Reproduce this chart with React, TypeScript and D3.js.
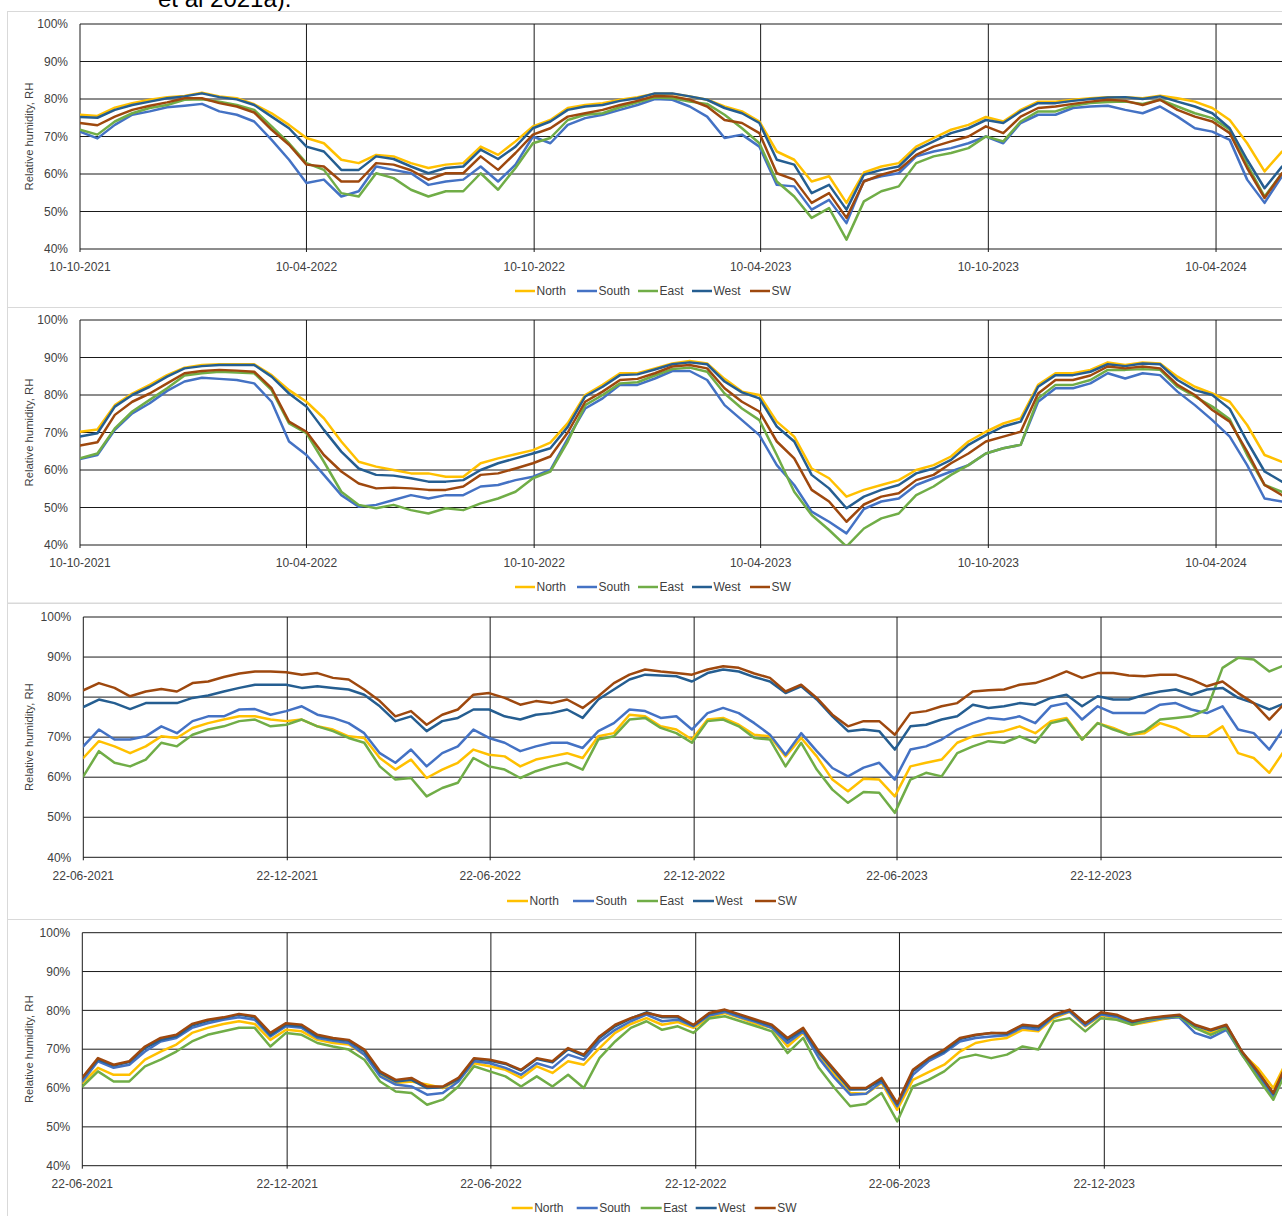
import React from 'react';
import * as d3 from 'd3';

// Series order matches the legend; SW is drawn last so it sits on top.
const SERIES_NAMES = ['North', 'South', 'East', 'West', 'SW'];
const SERIES_COLORS = ['#FFC000', '#4472C4', '#70AD47', '#255E91', '#9E480E'];
const Y_TICKS = [0.4, 0.5, 0.6, 0.7, 0.8, 0.9, 1.0];
const STEP_DAYS = 14; // readings are fortnightly

const TICKS_OCT = ['2021-10-10', '2022-04-10', '2022-10-10', '2023-04-10', '2023-10-10', '2024-04-10'];
const TICKS_JUN = ['2021-06-22', '2021-12-22', '2022-06-22', '2022-12-22', '2023-06-22', '2023-12-22'];

// ---- Panel 1: from 10-10-2021 ----
const P1_NORTH = [
  75.8, 75.5, 77.7, 78.9, 79.8, 80.5, 80.8, 81.7, 80.7, 80.2,
  78.6, 76.2, 73.1, 69.6, 68.2, 63.8, 62.9, 65.1, 64.7, 62.9,
  61.6, 62.5, 62.9, 67.3, 65.1, 68.7, 72.7, 74.4, 77.6, 78.4,
  78.9, 79.8, 80.5, 81.4, 81.4, 80.7, 79.8, 78.0, 76.7, 74.0,
  66.0, 63.8, 58.0, 59.4, 52.3, 60.4, 62.0, 62.9, 67.3, 69.6,
  71.8, 73.1, 75.2, 74.0, 77.1, 79.3, 79.3, 79.8, 80.2, 80.5,
  80.5, 80.2, 80.9, 80.2, 79.3, 77.6, 74.4, 68.2, 60.7, 66.0,
];
const P1_SOUTH = [
  71.3, 69.5, 73.1, 75.8, 76.7, 77.8, 78.2, 78.7, 76.7, 75.8,
  74.0, 69.1, 63.8, 57.6, 58.5, 54.0, 55.4, 62.0, 61.1, 60.2,
  57.1, 58.0, 58.5, 62.0, 58.0, 62.5, 70.0, 68.2, 73.1, 74.9,
  75.8, 77.1, 78.4, 80.0, 79.8, 78.0, 75.3, 69.6, 70.5, 67.3,
  57.1, 56.7, 50.5, 53.1, 46.9, 58.2, 59.4, 60.2, 64.7, 66.0,
  66.9, 68.2, 70.0, 68.2, 73.6, 75.8, 75.8, 77.6, 78.0, 78.2,
  77.1, 76.2, 78.0, 75.3, 72.2, 71.3, 69.1, 58.5, 52.3, 59.4,
];
const P1_EAST = [
  71.8, 70.5, 74.0, 76.2, 77.6, 78.4, 79.8, 79.9, 79.3, 78.4,
  77.1, 72.7, 68.2, 62.9, 61.1, 54.9, 54.0, 60.2, 58.9, 55.8,
  54.0, 55.4, 55.4, 60.2, 55.8, 61.6, 68.2, 69.6, 74.4, 75.8,
  76.2, 77.8, 79.1, 80.4, 80.2, 79.3, 78.7, 75.8, 72.2, 68.2,
  58.0, 54.0, 48.3, 50.9, 42.5, 52.7, 55.4, 56.7, 62.9, 64.7,
  65.6, 66.9, 70.0, 68.7, 74.0, 76.7, 76.7, 78.2, 78.9, 79.2,
  79.3, 78.7, 79.8, 78.0, 76.2, 74.9, 71.8, 62.5, 54.0, 60.2,
];
const P1_WEST = [
  75.2, 75.0, 77.1, 78.4, 79.3, 80.2, 80.7, 81.5, 80.5, 79.9,
  78.4, 75.3, 72.2, 67.3, 66.0, 61.1, 61.1, 64.7, 64.0, 62.0,
  60.2, 61.6, 62.0, 66.5, 64.0, 67.3, 72.2, 74.0, 77.1, 78.0,
  78.4, 79.5, 80.2, 81.5, 81.5, 80.7, 79.8, 77.6, 76.2, 73.6,
  63.8, 62.5, 54.9, 57.1, 50.5, 59.8, 61.1, 62.0, 66.5, 68.7,
  70.9, 72.2, 74.4, 73.6, 76.7, 78.9, 78.9, 79.5, 80.0, 80.4,
  80.5, 80.0, 80.7, 79.3, 78.0, 76.2, 72.2, 63.8, 56.2, 62.0,
];
const P1_SW = [
  73.6, 73.0, 75.3, 77.1, 78.2, 79.1, 80.2, 80.2, 78.9, 78.0,
  76.4, 71.8, 67.8, 62.5, 62.0, 58.0, 58.0, 62.9, 62.5, 61.0,
  58.5, 60.2, 60.2, 64.7, 61.1, 65.6, 70.5, 72.2, 75.3, 76.2,
  77.1, 78.4, 79.5, 80.8, 80.7, 79.8, 78.0, 74.4, 73.6, 70.9,
  60.2, 58.5, 52.3, 54.9, 48.3, 58.0, 59.8, 61.1, 65.1, 67.3,
  68.7, 70.0, 72.7, 70.9, 75.3, 77.6, 78.0, 78.7, 79.3, 79.8,
  79.5, 78.4, 79.8, 77.1, 75.3, 74.0, 70.9, 61.6, 53.6, 60.2,
];

// ---- Panel 2: from 10-10-2021 ----
const P2_NORTH = [
  70.2, 70.8, 77.3, 80.4, 82.7, 85.3, 87.3, 88.0, 88.2, 88.2,
  88.2, 85.3, 81.3, 78.2, 73.8, 67.6, 62.2, 60.9, 60.0, 59.1,
  59.1, 58.2, 58.2, 61.8, 63.1, 64.2, 65.3, 67.3, 72.5, 80.0,
  82.7, 85.8, 85.8, 87.1, 88.4, 89.1, 88.4, 84.3, 80.9, 80.0,
  72.9, 68.9, 60.4, 57.8, 52.9, 54.7, 56.0, 57.3, 60.0, 61.3,
  63.6, 67.6, 70.2, 72.4, 73.8, 82.7, 85.8, 85.8, 86.7, 88.7,
  88.0, 88.7, 88.4, 84.9, 82.2, 80.4, 78.2, 72.0, 64.0, 62.2,
];
const P2_SOUTH = [
  62.9, 64.0, 70.7, 75.1, 77.8, 81.1, 83.6, 84.6, 84.3, 84.0,
  83.1, 78.2, 67.6, 64.0, 58.7, 53.3, 50.2, 50.7, 52.0, 53.3,
  52.4, 53.3, 53.3, 55.6, 56.0, 57.3, 58.2, 60.0, 68.4, 76.4,
  79.1, 82.7, 82.7, 84.4, 86.4, 86.4, 84.0, 77.3, 73.3, 69.3,
  61.3, 56.0, 48.9, 46.2, 43.1, 49.6, 51.6, 52.4, 56.0, 57.8,
  59.6, 61.3, 64.4, 65.8, 66.7, 78.2, 81.8, 81.8, 83.1, 85.8,
  84.4, 85.8, 85.3, 80.9, 77.3, 73.3, 68.9, 61.3, 52.4, 51.6,
];
const P2_EAST = [
  63.1, 64.4, 71.1, 75.6, 78.7, 81.8, 85.2, 85.8, 86.2, 86.0,
  85.8, 81.3, 72.4, 69.8, 62.2, 54.2, 50.7, 49.8, 50.7, 49.3,
  48.4, 49.8, 49.3, 51.1, 52.4, 54.2, 57.8, 59.6, 67.6, 77.3,
  80.0, 83.1, 83.4, 85.2, 86.9, 87.3, 86.2, 80.4, 76.4, 73.3,
  64.0, 54.2, 48.0, 44.0, 39.6, 44.4, 47.1, 48.4, 53.3, 55.6,
  58.7, 61.3, 64.4, 65.8, 66.7, 79.1, 82.7, 82.7, 84.0, 86.7,
  86.7, 86.9, 86.7, 82.2, 79.6, 76.9, 73.5, 64.0, 56.0, 54.2,
];
const P2_WEST = [
  68.9, 69.8, 76.9, 80.0, 82.2, 84.9, 87.1, 87.7, 88.0, 88.0,
  88.0, 84.9, 80.4, 76.9, 70.7, 64.9, 60.4, 58.7, 58.5, 57.8,
  56.9, 56.9, 57.3, 60.0, 61.8, 63.1, 64.4, 65.8, 71.5, 79.6,
  82.2, 85.3, 85.5, 86.8, 88.2, 88.7, 88.2, 83.6, 80.7, 79.1,
  71.6, 67.6, 58.7, 55.1, 49.8, 52.9, 54.7, 56.0, 59.1, 60.4,
  62.7, 66.7, 69.3, 71.6, 72.9, 82.2, 85.3, 85.3, 86.2, 88.2,
  87.7, 88.4, 88.2, 84.0, 81.3, 80.0, 76.3, 67.6, 59.6, 56.9,
];
const P2_SW = [
  66.5, 67.4, 74.7, 78.2, 80.4, 83.1, 85.8, 86.4, 86.7, 86.5,
  86.2, 81.8, 72.9, 70.2, 64.0, 59.6, 56.4, 55.1, 55.3, 55.1,
  54.7, 54.7, 55.6, 58.7, 59.1, 60.4, 61.8, 63.6, 70.0, 78.2,
  80.9, 84.0, 84.3, 85.8, 87.6, 88.0, 87.1, 81.8, 78.2, 75.6,
  67.6, 63.1, 54.7, 51.6, 46.2, 50.8, 52.9, 53.8, 57.3, 58.7,
  61.8, 64.4, 67.6, 68.9, 70.2, 80.4, 84.0, 84.0, 85.2, 87.6,
  87.1, 87.6, 87.1, 82.7, 80.0, 76.0, 72.9, 64.9, 56.0, 53.3,
];

// ---- Panel 3: from 22-06-2021 ----
const P3_NORTH = [
  64.8, 69.0, 67.7, 66.0, 67.7, 70.2, 69.8, 72.3, 73.5, 74.4,
  75.2, 75.2, 74.4, 74.0, 74.4, 72.7, 71.9, 70.2, 69.8, 64.8,
  61.9, 64.4, 59.8, 61.9, 63.6, 66.9, 65.6, 65.2, 62.7, 64.4,
  65.2, 66.0, 64.8, 70.2, 71.0, 75.6, 75.2, 72.7, 71.9, 69.4,
  74.4, 74.8, 73.1, 70.6, 70.2, 65.2, 69.8, 65.2, 59.4, 56.5,
  59.6, 59.4, 55.2, 62.7, 63.6, 64.4, 68.6, 70.2, 71.0, 71.5,
  72.7, 71.0, 74.0, 74.8, 69.4, 73.5, 72.3, 70.6, 71.0, 73.5,
  72.3, 70.2, 70.2, 72.7, 66.0, 64.8, 61.1, 66.9,
];
const P3_SOUTH = [
  67.7, 71.9, 69.4, 69.4, 70.2, 72.7, 71.0, 74.0, 75.2, 75.2,
  76.9, 77.0, 75.6, 76.5, 77.7, 75.6, 74.8, 73.5, 71.0, 66.0,
  63.6, 66.9, 62.7, 66.0, 67.7, 71.9, 69.8, 68.6, 66.5, 67.7,
  68.6, 68.6, 67.3, 71.5, 73.5, 76.9, 76.5, 74.8, 75.2, 71.9,
  76.0, 77.3, 76.0, 73.5, 70.6, 65.6, 71.0, 66.5, 62.3, 60.2,
  62.4, 63.6, 59.4, 66.9, 67.7, 69.4, 71.9, 73.5, 74.8, 74.4,
  75.2, 73.5, 77.7, 78.5, 74.4, 77.7, 76.0, 76.0, 76.0, 78.1,
  78.5, 76.9, 76.0, 77.7, 71.9, 71.0, 66.9, 72.7,
];
const P3_EAST = [
  60.2, 66.5, 63.6, 62.7, 64.4, 68.6, 67.7, 70.6, 71.9, 72.7,
  74.0, 74.4, 72.7, 73.1, 74.4, 72.7, 71.5, 69.8, 68.6, 62.7,
  59.4, 59.8, 55.2, 57.3, 58.6, 64.8, 62.7, 61.9, 59.8, 61.5,
  62.7, 63.6, 61.9, 69.4, 70.2, 74.4, 74.8, 72.3, 71.0, 68.6,
  74.0, 74.4, 72.7, 69.8, 69.4, 62.7, 68.6, 61.9, 56.9, 53.6,
  56.3, 56.1, 51.1, 59.4, 61.1, 60.2, 66.0, 67.7, 69.0, 68.6,
  70.2, 68.6, 73.5, 74.4, 69.4, 73.5, 71.9, 70.6, 71.5, 74.4,
  74.8, 75.2, 76.9, 87.3, 89.8, 89.4, 86.4, 88.0,
];
const P3_WEST = [
  77.5, 79.4, 78.5, 77.0, 78.5, 78.5, 78.5, 79.8, 80.4, 81.4,
  82.3, 83.1, 83.1, 83.1, 82.3, 82.7, 82.3, 81.9, 80.6, 77.7,
  74.0, 75.2, 71.5, 74.0, 74.8, 76.9, 76.9, 75.2, 74.4, 75.6,
  76.0, 76.9, 74.8, 79.4, 81.9, 84.4, 85.6, 85.4, 85.2, 83.9,
  86.0, 86.9, 86.4, 85.0, 83.9, 81.0, 82.7, 79.4, 75.2, 71.5,
  71.9, 71.5, 66.9, 72.7, 73.1, 74.4, 75.2, 78.1, 77.3, 77.7,
  78.5, 78.1, 79.8, 80.6, 77.7, 80.2, 79.4, 79.4, 80.6, 81.4,
  81.9, 80.6, 81.9, 82.3, 79.8, 78.5, 76.9, 78.5,
];
const P3_SW = [
  81.7, 83.5, 82.3, 80.2, 81.4, 82.0, 81.4, 83.5, 83.9, 85.0,
  85.9, 86.4, 86.4, 86.2, 85.6, 86.0, 84.8, 84.4, 81.9, 79.0,
  75.2, 76.5, 73.1, 75.6, 76.9, 80.6, 81.0, 79.8, 78.1, 79.0,
  78.5, 79.4, 77.3, 80.2, 83.5, 85.6, 86.9, 86.4, 86.0, 85.6,
  86.9, 87.7, 87.3, 85.9, 84.8, 81.4, 83.1, 79.8, 75.6, 72.7,
  74.0, 74.0, 70.6, 76.0, 76.5, 77.7, 78.5, 81.4, 81.7, 81.9,
  83.1, 83.5, 84.8, 86.4, 84.8, 86.0, 86.0, 85.4, 85.2, 85.6,
  85.6, 84.4, 82.7, 83.9, 81.0, 78.5, 74.4, 78.5,
];

// ---- Panel 4: from 22-06-2021 ----
const P4_NORTH = [
  61.3, 65.2, 63.4, 63.4, 67.3, 69.4, 71.2, 74.2, 75.5, 76.5,
  77.2, 76.5, 72.4, 75.0, 74.6, 72.4, 71.6, 71.2, 68.6, 63.4,
  61.3, 61.7, 60.9, 60.0, 62.1, 66.4, 65.6, 64.7, 62.6, 65.6,
  63.9, 66.9, 66.0, 70.3, 74.2, 76.5, 78.0, 76.3, 77.0, 75.5,
  78.2, 79.3, 78.0, 76.5, 75.5, 70.7, 74.2, 68.1, 63.4, 58.7,
  58.5, 61.3, 54.4, 62.1, 64.1, 66.0, 69.4, 71.6, 72.4, 72.9,
  75.0, 74.6, 78.0, 79.6, 75.9, 78.7, 78.0, 76.3, 77.0, 77.8,
  78.4, 75.5, 74.2, 75.9, 69.0, 65.2, 60.0, 68.1,
];
const P4_SOUTH = [
  61.7, 66.9, 65.2, 66.0, 69.4, 72.0, 72.9, 75.5, 76.7, 77.6,
  78.2, 77.6, 73.3, 75.9, 75.5, 72.9, 72.2, 71.6, 68.6, 63.0,
  60.9, 60.4, 58.3, 58.7, 61.7, 66.9, 66.4, 65.2, 63.4, 66.4,
  65.2, 68.6, 67.3, 72.0, 75.0, 77.2, 78.9, 77.2, 77.6, 75.9,
  78.7, 79.6, 78.2, 77.0, 75.5, 71.6, 74.6, 67.7, 62.6, 58.3,
  58.5, 61.7, 55.3, 63.4, 66.9, 69.0, 72.0, 72.9, 73.3, 73.6,
  75.6, 75.0, 78.5, 79.7, 76.1, 78.9, 78.3, 76.5, 77.3, 78.0,
  78.2, 74.2, 72.9, 75.0, 68.6, 63.4, 57.9, 66.9,
];
const P4_EAST = [
  60.4, 64.3, 61.7, 61.7, 65.6, 67.3, 69.4, 72.0, 73.7, 74.6,
  75.5, 75.5, 70.7, 74.2, 73.7, 71.6, 70.7, 69.9, 67.3, 61.7,
  59.1, 58.7, 55.7, 57.0, 60.4, 65.6, 64.3, 63.0, 60.4, 63.0,
  60.4, 63.4, 60.0, 67.7, 72.0, 75.5, 77.2, 75.0, 75.9, 74.2,
  77.9, 78.5, 77.2, 75.9, 74.6, 69.0, 72.9, 65.2, 60.0, 55.3,
  55.9, 58.7, 51.4, 60.4, 62.1, 64.3, 67.7, 68.6, 67.7, 68.6,
  70.7, 69.9, 77.2, 78.0, 74.6, 78.0, 77.6, 76.3, 77.6, 78.2,
  78.4, 75.5, 73.7, 75.5, 68.6, 62.6, 57.0, 66.0,
];
const P4_WEST = [
  62.6, 67.3, 65.8, 66.7, 70.3, 72.4, 73.3, 76.1, 77.3, 78.0,
  78.9, 78.2, 73.7, 76.3, 75.9, 73.3, 72.6, 72.2, 69.4, 63.9,
  61.7, 62.1, 60.0, 60.2, 62.3, 67.5, 67.0, 66.2, 64.5, 67.5,
  66.6, 70.0, 68.3, 72.9, 75.9, 77.9, 79.5, 78.2, 78.2, 76.1,
  79.1, 80.0, 78.7, 77.3, 76.1, 72.4, 75.0, 69.0, 64.3, 59.6,
  59.7, 62.1, 55.9, 64.3, 67.5, 69.4, 72.6, 73.6, 74.2, 74.0,
  76.1, 75.6, 78.7, 80.0, 76.6, 79.3, 78.7, 77.0, 77.9, 78.3,
  78.7, 76.1, 74.8, 76.1, 69.3, 64.1, 58.5, 67.3,
];
const P4_SW = [
  62.7, 67.7, 66.0, 66.9, 70.7, 72.9, 73.7, 76.5, 77.6, 78.2,
  79.1, 78.5, 74.2, 76.7, 76.3, 73.7, 72.9, 72.4, 69.9, 64.3,
  62.1, 62.6, 60.4, 60.4, 62.6, 67.7, 67.3, 66.4, 64.7, 67.7,
  66.9, 70.3, 68.6, 73.3, 76.3, 78.0, 79.3, 78.5, 78.5, 76.3,
  79.3, 80.2, 78.9, 77.6, 76.3, 72.9, 75.5, 69.4, 64.7, 60.0,
  60.0, 62.6, 56.1, 64.7, 67.7, 69.9, 72.9, 73.7, 74.2, 74.2,
  76.3, 75.9, 78.9, 80.2, 76.7, 79.5, 78.9, 77.2, 78.0, 78.5,
  78.9, 76.3, 75.0, 76.3, 69.4, 64.3, 58.7, 67.7,
];

const PANEL_DATA = [
  { start: '2021-10-10', end: '2024-06-05', ticks: TICKS_OCT, series: [P1_NORTH, P1_SOUTH, P1_EAST, P1_WEST, P1_SW] },
  { start: '2021-10-10', end: '2024-06-05', ticks: TICKS_OCT, series: [P2_NORTH, P2_SOUTH, P2_EAST, P2_WEST, P2_SW] },
  { start: '2021-06-22', end: '2024-06-05', ticks: TICKS_JUN, series: [P3_NORTH, P3_SOUTH, P3_EAST, P3_WEST, P3_SW] },
  { start: '2021-06-22', end: '2024-06-05', ticks: TICKS_JUN, series: [P4_NORTH, P4_SOUTH, P4_EAST, P4_WEST, P4_SW] },
];

// Geometry of each stacked chart
const LAYOUTS = [
  { left: 80, pxPerDay: 1.2443, top: 24, bottom: 249, frameTop: 11.5, frameBottom: 307.5,
    legendY: 291, legendX: 515, legendOffsets: [0, 62, 123, 177, 235], legendLine: 20 },
  { left: 80, pxPerDay: 1.2443, top: 320, bottom: 545, frameTop: 307.5, frameBottom: 603,
    legendY: 587, legendX: 515, legendOffsets: [0, 62, 123, 177, 235], legendLine: 20 },
  { left: 83.3, pxPerDay: 1.1147, top: 617, bottom: 857.3, frameTop: 603.5, frameBottom: 919.5,
    legendY: 901, legendX: 507, legendOffsets: [0, 66, 130, 186, 248], legendLine: 21 },
  { left: 82.3, pxPerDay: 1.1194, top: 932.7, bottom: 1165.7, frameTop: 919.5, frameBottom: 1240,
    legendY: 1208, legendX: 511.7, legendOffsets: [0, 65, 129, 184, 243], legendLine: 21 },
];

const FONT = '"Liberation Sans", Arial, sans-serif';
const TEXT_COLOR = '#404040';
const parseDay = d3.utcParse('%Y-%m-%d');
const fmtDay = d3.utcFormat('%d-%m-%Y');
const fmtPct = d3.format('.0%');

function Panel({ data, layout, id }: { data: any; layout: any; id: number }) {
  const start = parseDay(data.start) as Date;
  const end = parseDay(data.end) as Date;
  const spanDays = d3.utcDay.count(start, end);
  const x = d3.scaleUtc().domain([start, end]).range([layout.left, layout.left + spanDays * layout.pxPerDay]);
  const y = d3.scaleLinear().domain([0.4, 1]).range([layout.bottom, layout.top]);
  const xMax = x.range()[1];
  const tickDates = data.ticks.map((t: string) => parseDay(t) as Date);
  const clipId = `plot-clip-${id}`;

  const line = d3
    .line<number>()
    .x((_, i) => x(d3.utcDay.offset(start, i * STEP_DAYS)))
    .y((v) => y(v / 100));

  return (
    <g>
      <rect x={7.5} y={layout.frameTop} width={1300} height={layout.frameBottom - layout.frameTop}
        fill="#fff" stroke="#D9D9D9" strokeWidth={1} />
      <defs>
        <clipPath id={clipId}>
          <rect x={layout.left} y={layout.top - 4} width={xMax - layout.left} height={layout.bottom - layout.top + 4} />
        </clipPath>
      </defs>
      {Y_TICKS.map((t) => (
        <line key={`h${t}`} x1={layout.left} x2={xMax} y1={y(t)} y2={y(t)} stroke="#1a1a1a" strokeWidth={1} />
      ))}
      {tickDates.map((d: Date, i: number) => (
        <line key={`v${i}`} x1={x(d)} x2={x(d)} y1={layout.top} y2={layout.bottom + 3} stroke="#1a1a1a" strokeWidth={1} />
      ))}
      {Y_TICKS.map((t) => (
        <text key={`yl${t}`} x={layout.left - 12} y={y(t)} dy="0.35em" textAnchor="end"
          fontSize={12} fill={TEXT_COLOR} fontFamily={FONT}>{fmtPct(t)}</text>
      ))}
      {tickDates.map((d: Date, i: number) => (
        <text key={`xl${i}`} x={x(d)} y={layout.bottom + 18} dy="0.35em" textAnchor="middle"
          fontSize={12} fill={TEXT_COLOR} fontFamily={FONT}>{fmtDay(d)}</text>
      ))}
      <text transform={`translate(29,${(layout.top + layout.bottom) / 2}) rotate(-90)`} textAnchor="middle"
        dy="0.35em" fontSize={11.3} fill={TEXT_COLOR} fontFamily={FONT}>Relative humidity, RH</text>
      <g clipPath={`url(#${clipId})`}>
        {data.series.map((values: number[], k: number) => (
          <path key={SERIES_NAMES[k]} d={line(values) || ''} fill="none" stroke={SERIES_COLORS[k]}
            strokeWidth={2.5} strokeLinejoin="round" strokeLinecap="round" />
        ))}
      </g>
      {SERIES_NAMES.map((name, k) => {
        const lx = layout.legendX + layout.legendOffsets[k];
        return (
          <g key={`lg${name}`}>
            <line x1={lx} x2={lx + layout.legendLine} y1={layout.legendY} y2={layout.legendY}
              stroke={SERIES_COLORS[k]} strokeWidth={2.5} />
            <text x={lx + layout.legendLine + 1.5} y={layout.legendY} dy="0.35em" fontSize={12}
              fill={TEXT_COLOR} fontFamily={FONT}>{name}</text>
          </g>
        );
      })}
    </g>
  );
}

export default function App() {
  return (
    <svg width={1282} height={1216} style={{ position: 'absolute', left: 0, top: 0, background: '#fff' }}>
      <rect x={0} y={0} width={1282} height={1216} fill="#fff" />
      <text x={158} y={7} fontSize={24} fill="#000" fontFamily={FONT}>et al 2021a).</text>
      {PANEL_DATA.map((d, i) => (
        <Panel key={i} id={i} data={d} layout={LAYOUTS[i]} />
      ))}
    </svg>
  );
}
